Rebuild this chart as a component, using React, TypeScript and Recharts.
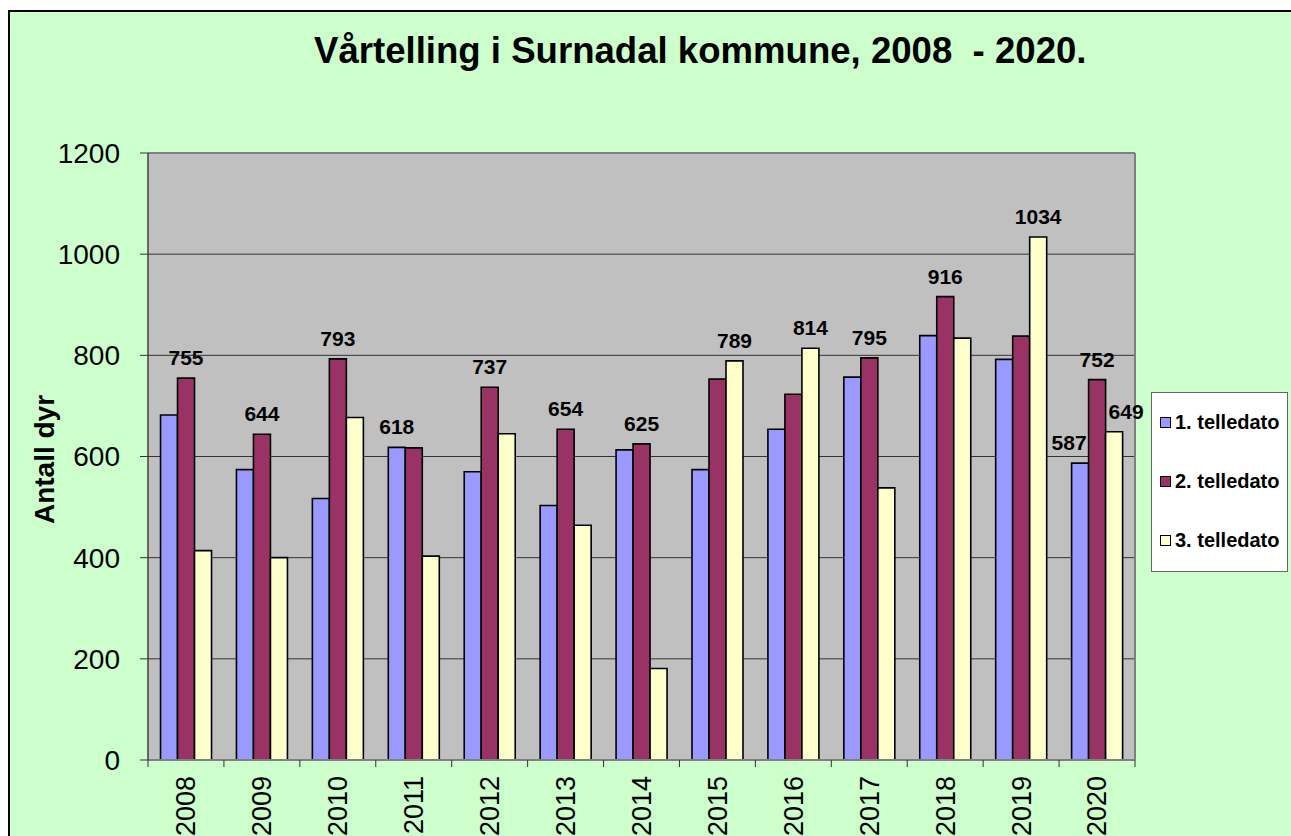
import React from "react"
import {
  BarChart,
  Bar,
  XAxis,
  YAxis,
  CartesianGrid,
  LabelList,
  Legend,
  Label,
} from "recharts"

const years = ["2008", "2009", "2010", "2011", "2012", "2013", "2014", "2015", "2016", "2017", "2018", "2019", "2020"]
const telledato1 = [682, 574, 517, 618, 570, 503, 613, 574, 654, 757, 839, 792, 587]
const telledato2 = [755, 644, 793, 617, 737, 654, 625, 753, 723, 795, 916, 838, 752]
const telledato3 = [414, 400, 677, 403, 645, 464, 181, 789, 814, 538, 834, 1034, 649]

// which bars carry a value label
const labelled1 = ["2011", "2020"]
const labelled2 = ["2008", "2009", "2010", "2012", "2013", "2014", "2017", "2018", "2020"]
const labelled3 = ["2015", "2016", "2019", "2020"]

const yTicks = [0, 200, 400, 600, 800, 1000, 1200]

const seriesNames = ["1. telledato", "2. telledato", "3. telledato"]
const seriesColors = ["#9999FF", "#993366", "#FFFFCC"]

const FONT = '"Liberation Sans", Arial, Helvetica, sans-serif'

const data = years.map((year, i) => ({
  year,
  t1: telledato1[i],
  t2: telledato2[i],
  t3: telledato3[i],
}))

// Excel pushed the crowded 2020 labels sideways
const labelShift: Record<string, number> = { "t1:2020": -11, "t3:2020": 12 }

function makeLabel(key: string, labelled: string[]) {
  return (props: any) => {
    const { x, y, width, value, index } = props
    const year = years[index]
    if (!labelled.includes(year)) return null
    const dx = labelShift[`${key}:${year}`] ?? 0
    return (
      <text
        x={x + width / 2 + dx}
        y={y - 13}
        textAnchor="middle"
        fontFamily={FONT}
        fontWeight="bold"
        fontSize={21}
        fill="#000"
      >
        {value}
      </text>
    )
  }
}

function YearTick(props: any) {
  const { x, y, payload, width, visibleTicksCount, index } = props
  const half = payload.offset ?? width / visibleTicksCount / 2
  return (
    <g>
      <line x1={x - half} x2={x - half} y1={y} y2={y + 7} stroke="#333" />
      {index === visibleTicksCount - 1 && (
        <line x1={x + half} x2={x + half} y1={y} y2={y + 7} stroke="#333" />
      )}
      <text
        x={x}
        y={y + 16}
        dy="0.35em"
        transform={`rotate(-90, ${x}, ${y + 16})`}
        textAnchor="end"
        fontFamily={FONT}
        fontSize={27}
        fill="#000"
      >
        {payload.value}
      </text>
    </g>
  )
}

function LegendBox() {
  return (
    <div
      style={{
        width: 137,
        height: 180,
        boxSizing: "border-box",
        background: "#fff",
        border: "1px solid #666",
        fontFamily: FONT,
        fontWeight: "bold",
        fontSize: 20,
      }}
    >
      {seriesNames.map((name, i) => (
        <div key={name} style={{ height: 59, display: "flex", alignItems: "center", paddingLeft: 8 }}>
          <span
            style={{
              display: "inline-block",
              width: 9,
              height: 9,
              background: seriesColors[i],
              border: "1px solid #000",
              marginRight: 4,
            }}
          />
          <span>{name}</span>
        </div>
      ))}
    </div>
  )
}

export default function App() {
  return (
    <div
      style={{
        position: "absolute",
        left: 8,
        top: 10,
        width: 1283,
        height: 826,
        boxSizing: "border-box",
        borderTop: "2px solid #000",
        borderLeft: "2px solid #000",
        background: "#CCFFCC",
        overflow: "hidden",
      }}
    >
      <div
        style={{
          position: "absolute",
          left: 304,
          top: 20,
          lineHeight: "37px",
          fontFamily: FONT,
          fontWeight: "bold",
          fontSize: 36.6,
          whiteSpace: "pre",
          color: "#000",
        }}
      >
        {"Vårtelling i Surnadal kommune, 2008  - 2020."}
      </div>
      <BarChart
        width={1281}
        height={824}
        data={data}
        margin={{ top: 141, right: 156, left: 78, bottom: 6 }}
        barCategoryGap="16.5%"
        barGap={0}
      >
        <CartesianGrid fill="#C0C0C0" stroke="#333" vertical={false} />
        <CartesianGrid
          fill="none"
          stroke="#808080"
          strokeWidth={2}
          horizontalCoordinatesGenerator={({ offset }: any) => [offset.top]}
          verticalCoordinatesGenerator={({ offset }: any) => [offset.left + offset.width]}
        />
        <XAxis
          dataKey="year"
          height={70}
          interval={0}
          tickSize={0}
          tickMargin={0}
          tickLine={false}
          axisLine={{ stroke: "#808080", strokeWidth: 2 }}
          tick={<YearTick />}
        />
        <YAxis
          width={60}
          domain={[0, 1200]}
          ticks={yTicks}
          interval={0}
          tickSize={8}
          tickMargin={20}
          tickLine={{ stroke: "#333" }}
          axisLine={{ stroke: "#404040", strokeWidth: 1.5 }}
          tick={{ fontSize: 28, fill: "#000", fontFamily: FONT }}
        >
          <Label
            content={(p: any) => {
              const vb = p.viewBox
              const cx = vb.x - 44
              const cy = vb.y + vb.height / 2 + 3
              return (
                <text
                  x={cx}
                  y={cy}
                  dy="0.35em"
                  transform={`rotate(-90, ${cx}, ${cy})`}
                  textAnchor="middle"
                  fontFamily={FONT}
                  fontWeight="bold"
                  fontSize={28}
                  fill="#000"
                >
                  Antall dyr
                </text>
              )
            }}
          />
        </YAxis>
        <Legend
          layout="vertical"
          align="center"
          verticalAlign="middle"
          content={() => <LegendBox />}
          wrapperStyle={{ left: 1141, top: 380, width: 137, height: 180, right: "auto", bottom: "auto" }}
        />
        <Bar dataKey="t1" name={seriesNames[0]} fill={seriesColors[0]} stroke="#000" strokeWidth={1.6} isAnimationActive={false}>
          <LabelList dataKey="t1" content={makeLabel("t1", labelled1)} />
        </Bar>
        <Bar dataKey="t2" name={seriesNames[1]} fill={seriesColors[1]} stroke="#000" strokeWidth={1.6} isAnimationActive={false}>
          <LabelList dataKey="t2" content={makeLabel("t2", labelled2)} />
        </Bar>
        <Bar dataKey="t3" name={seriesNames[2]} fill={seriesColors[2]} stroke="#000" strokeWidth={1.6} isAnimationActive={false}>
          <LabelList dataKey="t3" content={makeLabel("t3", labelled3)} />
        </Bar>
      </BarChart>
    </div>
  )
}
